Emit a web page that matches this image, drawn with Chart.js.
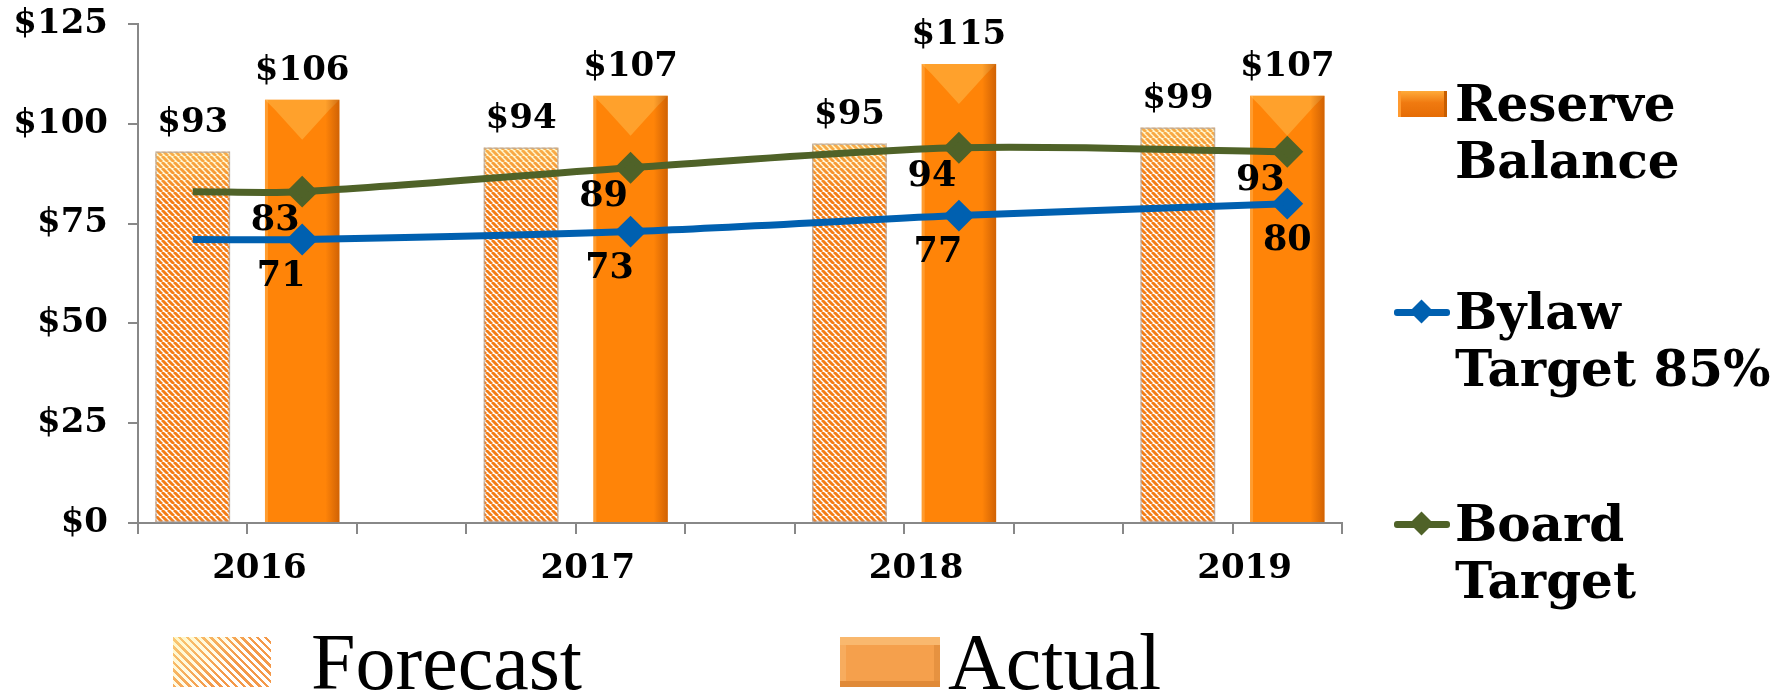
<!DOCTYPE html>
<html>
<head>
<meta charset="utf-8">
<script src="https://cdn.jsdelivr.net/npm/chart.js@4.4.0/dist/chart.umd.min.js"></script>
<style>
  html, body { margin: 0; padding: 0; background: #fff; }
  body { width: 1780px; height: 694px; position: relative; overflow: hidden; font-family: "DejaVu Serif", serif; }
  #wrap { position: absolute; left: 0; top: 0; width: 1360px; height: 600px; }
  .lg { position: absolute; font-weight: bold; font-size: 50px; line-height: 57px; color: #000; white-space: nowrap; }
  .sw-bar { position: absolute; width: 49px; height: 26px; background: linear-gradient(#ffab3a, #f07a10 45%, #e56c05);
            box-shadow: inset -3px 0 0 #c85e00, inset 3px 0 0 #ff9a30; }
  .sw-line { position: absolute; width: 56px; height: 7px; border-radius: 3px; }
  .sw-dia { position: absolute; width: 17px; height: 17px; transform: rotate(45deg); }
  .bl { position: absolute; font-family: "Liberation Serif", serif; font-size: 80px; line-height: 80px; color: #000; white-space: nowrap; }
  .sw-hatch { position: absolute; width: 98px; height: 50px;
              background: linear-gradient(135deg, rgba(255,240,150,0.55), rgba(255,255,255,0) 60%),
                          repeating-linear-gradient(45deg, #f4994a 0 2.5px, #fff 2.5px 5.5px); }
  .sw-act { position: absolute; width: 100px; height: 50px; background: #f5a04c;
            box-shadow: inset 0 8px 0 #f9b86e, inset 0 -6px 0 #e08a38, inset -6px 0 0 #e69240, inset 6px 0 0 #f7ac5e; }
</style>
</head>
<body>
<div id="wrap"><canvas id="chart" width="1360" height="600"></canvas></div>

<div class="sw-bar" style="left:1398px; top:91px;"></div>
<div class="lg" style="left:1455px; top:75px;">Reserve<br>Balance</div>

<div class="sw-line" style="left:1394px; top:309px; background:#0060b0;"></div>
<div class="sw-dia" style="left:1413px; top:303px; background:#0060b0;"></div>
<div class="lg" style="left:1455px; top:283px;">Bylaw<br>Target 85%</div>

<div class="sw-line" style="left:1394px; top:521px; background:#4f6228;"></div>
<div class="sw-dia" style="left:1413px; top:515px; background:#4f6228;"></div>
<div class="lg" style="left:1455px; top:495px;">Board<br>Target</div>

<div class="sw-hatch" style="left:173px; top:637px;"></div>
<div class="bl" style="left:311px; top:622px;">Forecast</div>
<div class="sw-act" style="left:840px; top:637px;"></div>
<div class="bl" style="left:948px; top:622px;">Actual</div>

<script>
// data
const years = ["2016", "2017", "2018", "2019"];
const forecast = [93, 94, 95, 99];
const actual = [106, 107, 115, 107];
const bylawTarget = [71, 73, 77, 80];
const boardTarget = [83, 89, 94, 93];
const yTicks = [0, 25, 50, 75, 100, 125];

// slots: forecast, actual, gap, forecast, actual, ...
const slots = [];
const fData = [], aData = [], bylawData = [], boardData = [];
years.forEach((y, i) => {
    if (i > 0) {
        slots.push("");
        fData.push(null); aData.push(null); bylawData.push(null); boardData.push(null);
    }
    // forecast slot, the target lines start here in 2016
    slots.push(y);
    fData.push(forecast[i]); aData.push(null);
    bylawData.push(i === 0 ? bylawTarget[0] : null);
    boardData.push(i === 0 ? boardTarget[0] : null);
    // actual slot
    slots.push(y);
    fData.push(null); aData.push(actual[i]);
    bylawData.push(bylawTarget[i]);
    boardData.push(boardTarget[i]);
});

Chart.defaults.font.family = "'DejaVu Serif', serif";
Chart.defaults.color = "#000";

// hatch pattern for forecast bars
function hatch() {
    const c = document.createElement("canvas");
    c.width = 6; c.height = 6;
    const g = c.getContext("2d");
    g.fillStyle = "#fff";
    g.fillRect(0, 0, 6, 6);
    g.strokeStyle = "#f47d16";
    g.lineWidth = 2.9;
    [-6, 0, 6].forEach(ox => {
        g.beginPath();
        g.moveTo(ox, 0);
        g.lineTo(ox + 6, 6);
        g.stroke();
    });
    return g.createPattern(c, "repeat");
}

// bevel shading on the bars
const barShade = {
    id: "barShade",
    afterDatasetDraw(chart, args) {
        const ctx = chart.ctx;
        const meta = args.meta;
        if (meta.type !== "bar") return;
        meta.data.forEach((el, i) => {
            if (meta._dataset.data[i] == null) return;
            const l = el.x - el.width / 2, r = el.x + el.width / 2, t = el.y, b = el.base;
            ctx.save();
            if (args.index === 2) {
                // actual: light top bevel and dark right edge
                ctx.fillStyle = "rgba(255,190,80,0.5)";
                ctx.beginPath();
                ctx.moveTo(l, t); ctx.lineTo(r, t); ctx.lineTo(r - 10, t + 10); ctx.lineTo(el.x, t + 40); ctx.lineTo(l + 10, t + 10);
                ctx.closePath(); ctx.fill();
                const g = ctx.createLinearGradient(r - 14, 0, r, 0);
                g.addColorStop(0, "rgba(170,70,0,0)");
                g.addColorStop(1, "rgba(170,70,0,0.55)");
                ctx.fillStyle = g;
                ctx.fillRect(r - 14, t, 14, b - t);
                ctx.fillStyle = "rgba(255,200,120,0.35)";
                ctx.fillRect(l, t, 3, b - t);
            } else {
                // forecast: faint yellow wash at the top
                const g = ctx.createLinearGradient(0, t, 0, t + 50);
                g.addColorStop(0, "rgba(255,235,140,0.45)");
                g.addColorStop(1, "rgba(255,235,140,0)");
                ctx.fillStyle = g;
                ctx.fillRect(l, t, r - l, 50);
                ctx.strokeStyle = "rgba(180,170,165,0.7)";
                ctx.lineWidth = 1.5;
                ctx.strokeRect(l + 0.5, t + 0.5, r - l - 1, b - t - 1);
            }
            ctx.restore();
        });
    }
};

// value labels and year labels
const labels = {
    id: "labels",
    afterDraw(chart) {
        const ctx = chart.ctx;
        ctx.save();
        ctx.fillStyle = "#000";
        ctx.textAlign = "center";
        ctx.textBaseline = "alphabetic";
        ctx.font = "bold 34px 'DejaVu Serif'";
        [1, 2].forEach(di => {
            const meta = chart.getDatasetMeta(di);
            meta.data.forEach((el, i) => {
                const v = chart.data.datasets[di].data[i];
                if (v == null) return;
                ctx.fillText("$" + v, el.x, el.y - 20);
            });
        });
        ctx.font = "bold 35px 'DejaVu Serif'";
        ctx.textBaseline = "middle";
        // [dataset, dx, dy]
        [[0, -21, 37], [3, -27, 29]].forEach(([di, dx, dy]) => {
            const meta = chart.getDatasetMeta(di);
            meta.data.forEach((el, i) => {
                const v = chart.data.datasets[di].data[i];
                if (v == null || i === 0) return;
                const ox = (di === 0 && i === slots.length - 1) ? 0 : dx;
                ctx.fillText(String(v), el.x + ox, el.y + dy);
            });
        });
        // year labels under each pair of bars
        const xs = chart.scales.x;
        ctx.font = "bold 34px 'DejaVu Serif'";
        years.forEach((y, i) => {
            const x = (xs.getPixelForValue(i * 3) + xs.getPixelForValue(i * 3 + 1)) / 2 + 12;
            ctx.fillText(y, x, 569);
        });
        ctx.restore();
    }
};

new Chart(document.getElementById("chart"), {
    type: "bar",
    data: {
        labels: slots,
        datasets: [
            {
                type: "line",
                label: "Bylaw Target 85%",
                data: bylawData,
                borderColor: "#0060b0",
                backgroundColor: "#0060b0",
                borderWidth: 7,
                pointStyle: "rectRot",
                pointRadius: ctx => ctx.dataIndex === 0 ? 0 : 11,
                spanGaps: true,
                tension: 0.3,
                order: 0
            },
            {
                label: "Forecast",
                data: fData,
                backgroundColor: hatch(),
                grouped: false,
                barPercentage: 0.68,
                categoryPercentage: 1,
                order: 2
            },
            {
                label: "Actual",
                data: aData,
                backgroundColor: "#ff8408",
                grouped: false,
                barPercentage: 0.68,
                categoryPercentage: 1,
                order: 2
            },
            {
                type: "line",
                label: "Board Target",
                data: boardData,
                borderColor: "#4f6228",
                backgroundColor: "#4f6228",
                borderWidth: 7,
                pointStyle: "rectRot",
                pointRadius: ctx => ctx.dataIndex === 0 ? 0 : 11,
                spanGaps: true,
                tension: 0.3,
                order: 1
            }
        ]
    },
    options: {
        responsive: false,
        animation: false,
        layout: { padding: { top: 24, right: 12, left: 0, bottom: 0 } },
        plugins: { legend: { display: false }, tooltip: { enabled: false } },
        scales: {
            x: {
                grid: { display: true, drawOnChartArea: false, offset: true, tickLength: 11, color: "#888", lineWidth: 2 },
                border: { color: "#888", width: 2 },
                ticks: { display: false },
                afterFit: s => { s.height = 77; }
            },
            y: {
                min: 0,
                max: 125,
                afterBuildTicks: s => { s.ticks = yTicks.map(v => ({ value: v })); },
                grid: { drawOnChartArea: false, tickLength: 10, color: "#888", lineWidth: 2 },
                border: { color: "#888", width: 2 },
                ticks: { padding: 20, font: { size: 34, weight: "bold" }, callback: v => "$" + v },
                afterFit: s => { s.width = 138; s.paddingTop = 0; s.paddingBottom = 0; }
            }
        }
    },
    plugins: [barShade, labels]
});
</script>
</body>
</html>
